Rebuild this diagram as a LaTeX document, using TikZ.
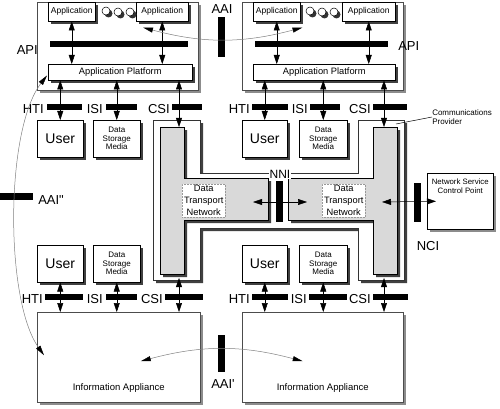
\documentclass[tikz,border=0pt]{standalone}
\usepackage{fontspec}
\setmainfont{Liberation Sans}
\usetikzlibrary{arrows.meta,shadows,positioning}

\begin{document}
\begin{tikzpicture}[x=1pt, y=-1pt, line width=0.5pt,
    box/.style={draw, fill=white, anchor=north west, inner sep=0pt, align=center},
    dark/.style={general shadow={fill=black!75, shadow xshift=3pt, shadow yshift=-3pt}},
    light/.style={general shadow={fill=black!45, shadow xshift=3pt, shadow yshift=-3pt}},
    app/.style={box, dark, minimum height=19pt, font=\fontsize{8.5}{10}\selectfont},
    platform/.style={box, dark, minimum height=16pt, font=\fontsize{9.3}{11}\selectfont},
    user/.style={box, dark, minimum width=46pt, minimum height=37pt, font=\fontsize{14}{16}\selectfont},
    media/.style={box, dark, minimum width=47pt, minimum height=37pt, font=\fontsize{8}{8.5}\selectfont},
    appliance/.style={box, light, draw=black!70, minimum height=90pt},
    dtn/.style={box, draw=black!40, densely dotted, minimum width=43pt, minimum height=33pt, font=\fontsize{9.3}{12}\selectfont},
    bar/.style={fill=black, anchor=north west, inner sep=0pt},
    lbl/.style={inner sep=0pt, font=\fontsize{13}{15}\selectfont},
    ilbl/.style={lbl, yshift=-2pt},
    tip/.style={{Triangle[length=9pt,width=6pt]}-{Triangle[length=9pt,width=6pt]}},
    curve/.style={black!50, {Triangle[length=10pt,width=5pt,color=black]}-{Triangle[length=10pt,width=5pt,color=black]}},
    ball/.style={draw, fill=white, general shadow={fill=black!80, shadow xshift=2.5pt, shadow yshift=-2.5pt}}]

    \useasboundingbox (0,0) rectangle (500,409);

    % the two application computers
    \node[box, light, draw=black!70, minimum width=161pt, minimum height=88pt] (tl) at (37,2) {};
    \node[box, light, draw=black!70, minimum width=161pt, minimum height=88pt] (tr) at (242,2) {};

    \node[app, minimum width=47pt] (app1) at (48,2) {Application};
    \node[app, minimum width=52pt] (app2) at (136,2) {Application};
    \node[app, minimum width=47pt] (app3) at (253,2) {Application};
    \node[app, minimum width=53pt] (app4) at (342,2) {Application};

    \draw[ball] (106,11) circle (4);
    \draw[ball] (118,12) circle (4);
    \draw[ball] (130,12) circle (4);
    \draw[ball] (310,11) circle (4);
    \draw[ball] (322,12) circle (4);
    \draw[ball] (334,12) circle (4);

    \node[bar, minimum width=138pt, minimum height=6pt] (apil) at (50,41) {};
    \node[bar, minimum width=133pt, minimum height=6pt] (apir) at (255,41) {};

    \node[platform, minimum width=144pt] (plat1) at (48,64) {Application Platform};
    \node[platform, minimum width=142pt] (plat2) at (253,64) {Application Platform};

    % communications provider
    \draw[fill=white, draw=black!80, dark] (153,120) -- (200,120) -- (200,173) -- (358,173) -- (358,120)
        -- (404,120) -- (404,280) -- (358,280) -- (358,228) -- (200,228) -- (200,280) -- (153,280) -- cycle;
    \draw[fill=black!15, dark] (160,127) -- (184,127) -- (184,178) -- (268,178) -- (268,220)
        -- (184,220) -- (184,274) -- (160,274) -- cycle;
    \draw[fill=black!15, dark] (397,127) -- (373,127) -- (373,178) -- (288,178) -- (288,220)
        -- (373,220) -- (373,274) -- (397,274) -- cycle;

    \node[dtn] (dtn1) at (182,184) {Data\\Transport\\Network};
    \node[dtn] (dtn2) at (322,184) {Data\\Transport\\Network};

    \node[fill=white, inner sep=1pt, font=\fontsize{12}{14}\selectfont] (nnilbl) at (280,174) {NNI};
    \node[bar, minimum width=7pt, minimum height=41pt] (nni) at (276,181) {};

    \coordinate (cpl) at (179,127);
    \coordinate (cpr) at (384,127);
    \coordinate (cplb) at (179,278);
    \coordinate (cprb) at (384,278);
    \coordinate (nnia) at (253,202);
    \coordinate (nnib) at (307,202);
    \coordinate (ncia) at (382,202);
    \coordinate (cpt) at (396,124);

    % users and media
    \node[user] (user1) at (37,120) {User};
    \node[media] (dsm1) at (93,120) {Data\\Storage\\Media};
    \node[user, minimum width=45pt] (user2) at (242,120) {User};
    \node[media, minimum width=48pt] (dsm2) at (299,120) {Data\\Storage\\Media};
    \node[user] (user3) at (37,245) {User};
    \node[media] (dsm3) at (93,245) {Data\\Storage\\Media};
    \node[user, minimum width=45pt] (user4) at (242,245) {User};
    \node[media, minimum width=48pt] (dsm4) at (299,245) {Data\\Storage\\Media};

    % interfaces, top row
    \node[bar, minimum width=35pt, minimum height=6pt] (htil) at (47,104) {};
    \node[bar, minimum width=31pt, minimum height=6pt] (isil) at (106,104) {};
    \node[bar, minimum width=30pt, minimum height=6pt] (csil) at (172,104) {};
    \node[bar, minimum width=36pt, minimum height=6pt] (htir) at (252,104) {};
    \node[bar, minimum width=30pt, minimum height=6pt] (isir) at (310,104) {};
    \node[bar, minimum width=34pt, minimum height=6pt] (csir) at (373,104) {};
    \node[ilbl, left=3pt of htil] (htillbl) {HTI};
    \node[ilbl, left=3pt of isil] (isillbl) {ISI};
    \node[ilbl, left=2pt of csil] (csillbl) {CSI};
    \node[ilbl, left=2pt of htir] (htirlbl) {HTI};
    \node[ilbl, left=2pt of isir] (isirlbl) {ISI};
    \node[ilbl, left=2pt of csir] (csirlbl) {CSI};

    % interfaces, bottom row
    \node[bar, minimum width=38pt, minimum height=6pt] (htibl) at (45,294) {};
    \node[bar, minimum width=31pt, minimum height=6pt] (isibl) at (106,294) {};
    \node[bar, minimum width=38pt, minimum height=6pt] (csibl) at (165,294) {};
    \node[bar, minimum width=36pt, minimum height=6pt] (htibr) at (252,294) {};
    \node[bar, minimum width=38pt, minimum height=6pt] (isibr) at (309,294) {};
    \node[bar, minimum width=35pt, minimum height=6pt] (csibr) at (373,294) {};
    \node[ilbl, left=2pt of htibl] (htibllbl) {HTI};
    \node[ilbl, left=3pt of isibl] (isibllbl) {ISI};
    \node[ilbl, left=2pt of csibl] (csibllbl) {CSI};
    \node[ilbl, left=2pt of htibr] (htibrlbl) {HTI};
    \node[ilbl, left=2pt of isibr] (isibrlbl) {ISI};
    \node[ilbl, left=2pt of csibr] (csibrlbl) {CSI};

    % information appliances
    \node[appliance, minimum width=163pt,
        label={[inner sep=0pt, anchor=base, yshift=12pt, font=\fontsize{9.5}{11}\selectfont]south:Information Appliance}] (ia1) at (37,312) {};
    \node[appliance, minimum width=161pt,
        label={[inner sep=0pt, anchor=base, yshift=12pt, font=\fontsize{9.5}{11}\selectfont]south:Information Appliance}] (ia2) at (242,312) {};

    \node[box, light, minimum width=66pt, minimum height=56pt,
        label={[align=center, anchor=north, yshift=-6pt, inner sep=0pt, font=\fontsize{7.8}{9}\selectfont]north:Network Service\\Control Point}] (nscp) at (427,173) {};

    % AAI, NCI
    \node[bar, minimum width=7pt, minimum height=40pt] (aai) at (218,17) {};
    \node[bar, minimum width=7pt, minimum height=37pt] (aai1) at (218,335) {};
    \node[bar, minimum width=33pt, minimum height=7pt] (aai2) at (0,193) {};
    \node[bar, minimum width=7pt, minimum height=39pt] (nci) at (414,183) {};

    \node[lbl] (aailbl) at (222,9) {AAI};
    \node[lbl] (aai1lbl) at (223,384) {AAI\textquotesingle};
    \node[lbl, anchor=west] (aai2lbl) at (38,200) {AAI\textquotedbl};
    \node[lbl] (ncilbl) at (428,246) {NCI};
    \node[lbl, anchor=east] (apillbl) at (38,50) {API};
    \node[lbl, anchor=west] (apirlbl) at (398,46) {API};
    \node[anchor=west, align=left, inner sep=0pt, font=\fontsize{8}{9}\selectfont] (cplbl) at (432,117) {Communications\\Provider};
    \draw (cpt) -- (cplbl.west);

    % arrows
    \draw[tip] (app1.south) -- (app1.south |- plat1.north);
    \draw[tip] (app2.south) -- (app2.south |- plat1.north);
    \draw[tip] (app3.south) -- (app3.south |- plat2.north);
    \draw[tip] (app4.south) -- (app4.south |- plat2.north);

    \draw[tip] (user1.north |- plat1.south) -- (user1.north);
    \draw[tip] (dsm1.north |- plat1.south) -- (dsm1.north);
    \draw[tip] (cpl |- plat1.south) -- (cpl);
    \draw[tip] (user2.north |- plat2.south) -- (user2.north);
    \draw[tip] (dsm2.north |- plat2.south) -- (dsm2.north);
    \draw[tip] (cpr |- plat2.south) -- (cpr);

    \draw[tip] (user3.south) -- (user3.south |- ia1.north);
    \draw[tip] (dsm3.south) -- (dsm3.south |- ia1.north);
    \draw[tip] (cplb) -- (cplb |- ia1.north);
    \draw[tip] (user4.south) -- (user4.south |- ia2.north);
    \draw[tip] (dsm4.south) -- (dsm4.south |- ia2.north);
    \draw[tip] (cprb) -- (cprb |- ia2.north);

    \draw[tip] (nnia) -- (nnib);
    \draw[tip] (ncia) -- ([xshift=9pt]nscp.west);

    \draw[curve] ([shift={(7,6)}]app2.south west) to[bend right=15] ([shift={(2,6)}]app3.south east);
    \draw[curve] ([shift={(22,4)}]ia1.center) to[bend left=15] ([shift={(-20,4)}]ia2.center);
    \draw[curve] ([shift={(-1,-5)}]plat1.south west) .. controls (5,130) and (5,300) .. ([shift={(7,-2)}]ia1.west);

\end{tikzpicture}
\end{document}
